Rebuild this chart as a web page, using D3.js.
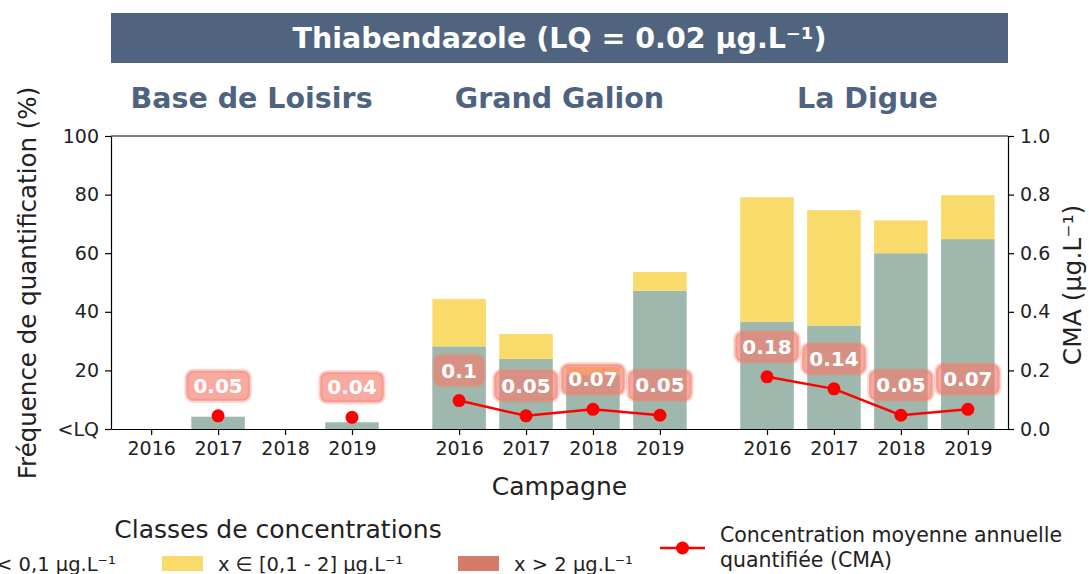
<!DOCTYPE html>
<html>
<head>
<meta charset="utf-8">
<script src="https://cdn.jsdelivr.net/npm/d3@7"></script>
<style>
  body { margin: 0; background: #fff; }
  svg { display: block; font-family: "DejaVu Sans", sans-serif; }
  .tick text { fill: #222; }
</style>
</head>
<body>
<div id="chart"></div>
<script>
// chart data
const sites = ['Base de Loisirs', 'Grand Galion', 'La Digue'];
const years = ['2016', '2017', '2018', '2019'];
// % of samples per concentration class, one row per site
const lowClass = [
  [0, 4.2, 0, 2.3],
  [28.2, 23.9, 18.4, 47.2],
  [36.6, 35.3, 60, 64.8]
];
const midClass = [
  [0, 0, 0, 0],
  [16.2, 8.5, 2.8, 6.4],
  [42.5, 39.4, 11.2, 15]
];
const highClass = [
  [0, 0, 0, 0],
  [0, 0, 0, 0],
  [0, 0, 0, 0]
];
// annual mean quantified concentration (µg/L)
const cma = [
  [null, 0.045, null, 0.04],
  [0.097, 0.045, 0.067, 0.047],
  [0.178, 0.137, 0.047, 0.067]
];
const cmaLabels = [
  [null, '0.05', null, '0.04'],
  ['0.1', '0.05', '0.07', '0.05'],
  ['0.18', '0.14', '0.05', '0.07']
];
const yTicks = [0, 20, 40, 60, 80, 100];
const yTickLabels = ['<LQ', '20', '40', '60', '80', '100'];
const y2Ticks = [0, 0.2, 0.4, 0.6, 0.8, 1.0];
const classLabels = ['< 0,1 µg.L⁻¹', 'x ∈ [0,1 - 2] µg.L⁻¹', 'x > 2 µg.L⁻¹'];
const classColors = ['#9fb8ad', '#f9db6b', '#d67b67'];

const width = 1089, height = 574;
const margin = {top: 136, right: 81, bottom: 145, left: 111};
const innerW = width - margin.left - margin.right;
const innerH = height - margin.top - margin.bottom;
const groupGap = 4.6;

const svg = d3.select('#chart').append('svg')
  .attr('width', width)
  .attr('height', height);

// flatten into rows
const rows = [];
sites.forEach((site, s) => {
  years.forEach((year, i) => {
    rows.push({
      site: s, year, pos: s * groupGap + i,
      low: lowClass[s][i], mid: midClass[s][i], high: highClass[s][i],
      cma: cma[s][i], label: cmaLabels[s][i]
    });
  });
});

const x = d3.scaleLinear()
  .domain([-0.6, 3 + 2 * groupGap + 0.6])
  .range([0, innerW]);
const y = d3.scaleLinear().domain([0, 100]).range([innerH, 0]);
const y2 = d3.scaleLinear().domain([0, 1]).range([innerH, 0]);
const barW = x(0.8) - x(0);

// title banner
svg.append('rect')
  .attr('x', margin.left).attr('y', 13)
  .attr('width', innerW).attr('height', 50)
  .attr('fill', '#506480');
svg.append('text')
  .attr('x', margin.left + innerW / 2).attr('y', 38)
  .attr('text-anchor', 'middle').attr('dominant-baseline', 'central')
  .attr('fill', '#fff').attr('font-weight', 'bold').attr('font-size', 28.5)
  .text('Thiabendazole (LQ = 0.02 µg.L⁻¹)');

// site titles
svg.append('g').selectAll('text')
  .data(sites)
  .enter().append('text')
  .attr('x', (d, s) => margin.left + x(s * groupGap + 1.5))
  .attr('y', 98)
  .attr('text-anchor', 'middle').attr('dominant-baseline', 'central')
  .attr('fill', '#4f6380').attr('font-weight', 'bold').attr('font-size', 28.5)
  .text(d => d);

const g = svg.append('g')
  .attr('transform', `translate(${margin.left},${margin.top})`);

// stacked bars
const stack = [
  {key: 'low', base: d => 0},
  {key: 'mid', base: d => d.low},
  {key: 'high', base: d => d.low + d.mid}
];
stack.forEach((layer, k) => {
  g.append('g').selectAll('rect')
    .data(rows.filter(d => d[layer.key] > 0))
    .enter().append('rect')
    .attr('x', d => x(d.pos) - barW / 2)
    .attr('width', barW)
    .attr('y', d => y(layer.base(d) + d[layer.key]))
    .attr('height', d => y(layer.base(d)) - y(layer.base(d) + d[layer.key]))
    .attr('fill', classColors[k]);
});

// CMA lines & dots
const line = d3.line()
  .defined(d => d.cma !== null)
  .x(d => x(d.pos))
  .y(d => y2(d.cma));
sites.forEach((site, s) => {
  g.append('path')
    .datum(rows.filter(d => d.site === s))
    .attr('fill', 'none')
    .attr('stroke', '#f00')
    .attr('stroke-width', 2.5)
    .attr('d', line);
});
g.append('g').selectAll('circle')
  .data(rows.filter(d => d.cma !== null))
  .enter().append('circle')
  .attr('cx', d => x(d.pos))
  .attr('cy', d => y2(d.cma))
  .attr('r', 6.5)
  .attr('fill', '#f00');

// value labels
const labels = g.append('g').selectAll('g')
  .data(rows.filter(d => d.label))
  .enter().append('g')
  .attr('transform', d => `translate(${x(d.pos)},${y2(d.cma) - 30})`);
labels.append('text')
  .attr('text-anchor', 'middle').attr('dominant-baseline', 'central')
  .attr('fill', '#fff').attr('font-weight', 'bold').attr('font-size', 20)
  .text(d => d.label);
labels.each(function() {
  const grp = d3.select(this);
  const bb = grp.select('text').node().getBBox();
  grp.insert('rect', 'text')
    .attr('x', bb.x - 7).attr('y', -15)
    .attr('width', bb.width + 14).attr('height', 30)
    .attr('rx', 7)
    .attr('fill', '#f47d6e').attr('fill-opacity', 0.65)
    .attr('stroke', '#f47d6e').attr('stroke-opacity', 0.35)
    .attr('stroke-width', 4);
});

// axes
const xAxis = g.append('g')
  .attr('transform', `translate(0,${innerH})`)
  .call(d3.axisBottom(x)
    .tickValues(rows.map(d => d.pos))
    .tickFormat((d, i) => rows[i].year)
    .tickSize(6).tickSizeOuter(0));
const yAxis = g.append('g')
  .call(d3.axisLeft(y)
    .tickValues(yTicks)
    .tickFormat((d, i) => yTickLabels[i])
    .tickSize(6).tickSizeOuter(0));
const y2Axis = g.append('g')
  .attr('transform', `translate(${innerW},0)`)
  .call(d3.axisRight(y2)
    .tickValues(y2Ticks)
    .tickFormat(d3.format('.1f'))
    .tickSize(6).tickSizeOuter(0));
// top spine
g.append('line')
  .attr('x1', 0).attr('x2', innerW)
  .attr('y1', 0).attr('y2', 0)
  .attr('stroke', '#000');

[xAxis, yAxis, y2Axis].forEach(ax => {
  ax.selectAll('text').attr('font-size', 19).attr('font-family', '"DejaVu Sans", sans-serif');
  ax.selectAll('path, line').attr('stroke', '#000').attr('stroke-width', 1.2);
});
xAxis.selectAll('text').attr('dy', '0.9em');
yAxis.selectAll('text').attr('x', -12);
y2Axis.selectAll('text').attr('x', 12);

// axis titles
svg.append('text')
  .attr('transform', 'translate(27,283) rotate(-90)')
  .attr('text-anchor', 'middle').attr('dominant-baseline', 'central')
  .attr('font-size', 24.5).attr('fill', '#222')
  .text('Fréquence de quantification (%)');
svg.append('text')
  .attr('transform', 'translate(1072,285) rotate(-90)')
  .attr('text-anchor', 'middle').attr('dominant-baseline', 'central')
  .attr('font-size', 25).attr('fill', '#222')
  .text('CMA (µg.L⁻¹)');
svg.append('text')
  .attr('x', margin.left + x(1.5 + groupGap)).attr('y', 486)
  .attr('text-anchor', 'middle').attr('dominant-baseline', 'central')
  .attr('font-size', 25).attr('fill', '#222')
  .text('Campagne');

// legend: concentration classes
svg.append('text')
  .attr('x', 278).attr('y', 529)
  .attr('text-anchor', 'middle').attr('dominant-baseline', 'central')
  .attr('font-size', 25).attr('fill', '#222')
  .text('Classes de concentrations');
const legendX = [-60, 162, 458];
const legendItems = svg.append('g').selectAll('g')
  .data(classLabels)
  .enter().append('g')
  .attr('transform', (d, i) => `translate(${legendX[i]},564)`);
legendItems.append('rect')
  .attr('x', 0).attr('y', -8)
  .attr('width', 41).attr('height', 15)
  .attr('fill', (d, i) => classColors[i]);
legendItems.append('text')
  .attr('x', 56).attr('y', 0)
  .attr('dominant-baseline', 'central')
  .attr('font-size', 19.5).attr('fill', '#222')
  .text(d => d);

// legend: CMA
const cmaLegend = svg.append('g').attr('transform', 'translate(660,548)');
cmaLegend.append('line')
  .attr('x1', 0).attr('x2', 45)
  .attr('stroke', '#f00').attr('stroke-width', 2.5);
cmaLegend.append('circle')
  .attr('cx', 22.5).attr('r', 6.5).attr('fill', '#f00');
cmaLegend.append('text')
  .attr('x', 60).attr('y', -13)
  .attr('dominant-baseline', 'central')
  .attr('font-size', 20.5).attr('fill', '#222')
  .text('Concentration moyenne annuelle');
cmaLegend.append('text')
  .attr('x', 60).attr('y', 12)
  .attr('dominant-baseline', 'central')
  .attr('font-size', 20.5).attr('fill', '#222')
  .text('quantifiée (CMA)');
</script>
</body>
</html>
